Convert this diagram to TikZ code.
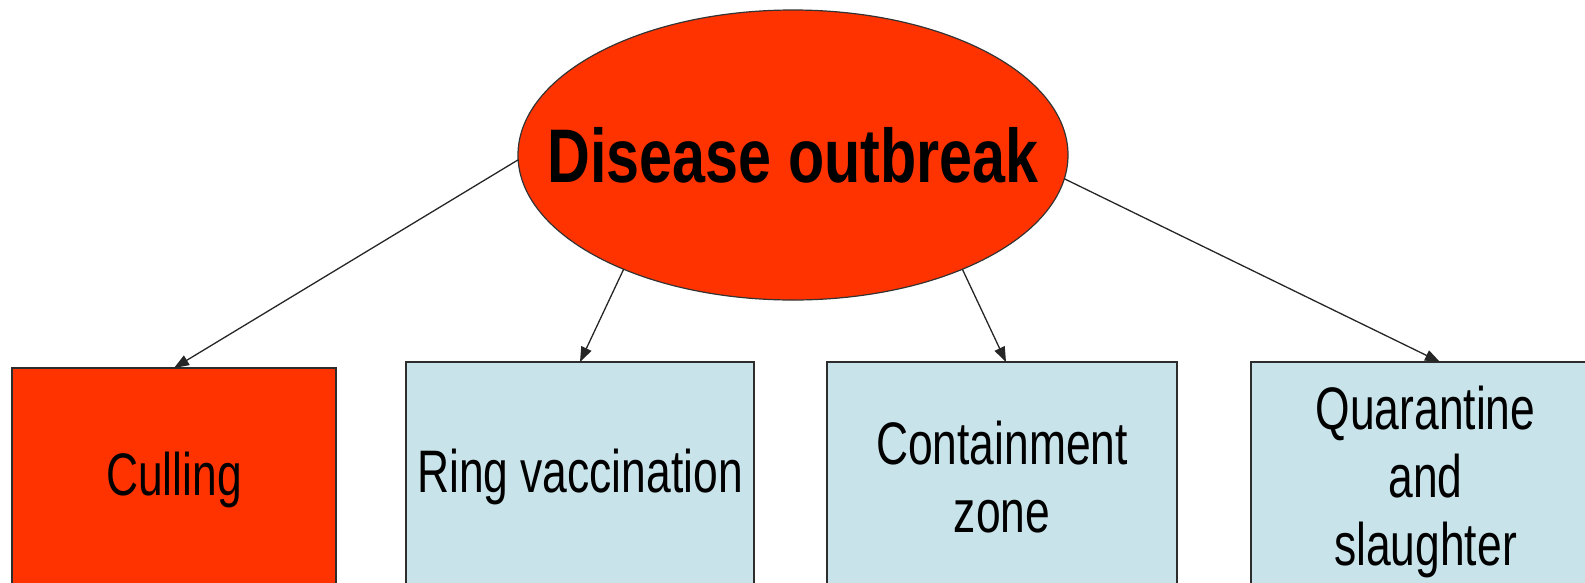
\documentclass[tikz,border=0pt]{standalone}
\usepackage{fontspec}
\setmainfont{Liberation Sans}
\newfontfamily\boxfont[FakeStretch=0.74]{Liberation Sans}
\newfontfamily\titlefont[FakeStretch=0.78]{Liberation Sans Bold}
\usetikzlibrary{shapes.geometric,arrows.meta}
\definecolor{outred}{RGB}{255,51,0}
\definecolor{paleblue}{RGB}{200,228,234}
\definecolor{edgegray}{RGB}{45,45,45}
\begin{document}
\begin{tikzpicture}[x=1pt,y=-1pt,
  boxnode/.style={draw=edgegray,line width=2pt,inner sep=0pt,outer sep=0pt,
    minimum width=#1,minimum height=230pt,align=center,
    font=\boxfont\fontsize{60}{68}\selectfont},
  link/.style={draw=black!85,line width=1.3pt,-{Triangle[length=15pt,width=11pt]}}]
\useasboundingbox (0,0) rectangle (1585,582);
\begin{scope}
\clip (0,0) rectangle (1585,582);
\node[ellipse,draw=black!80,line width=1.2pt,fill=outred,inner sep=0pt,outer sep=0pt,
  minimum width=550pt,minimum height=290pt,
  font=\titlefont\fontsize{76}{80}\selectfont] (ell) at (793,155) {\makebox[0pt]{Disease outbreak}};
\node[boxnode=324pt,fill=outred,minimum height=224pt] (cull) at (174,480) {Culling};
\node[boxnode=348pt,fill=paleblue] (ring) at (580,477) {Ring vaccination};
\node[boxnode=350pt,fill=paleblue] (cont) at (1002,477) {Containment\\zone};
\node[boxnode=349pt,fill=paleblue,minimum height=240pt] (quar) at (1425.5,482) {Quarantine\\and\\slaughter};
\draw[link] (ell.181) -- (cull.north);
\draw[link] (ell.214) -- (ring.north);
\draw[link] (ell.326) -- ([xshift=4pt]cont.north);
\draw[link] (ell.355) -- ([xshift=14.5pt]quar.north);
\end{scope}
\end{tikzpicture}
\end{document}
